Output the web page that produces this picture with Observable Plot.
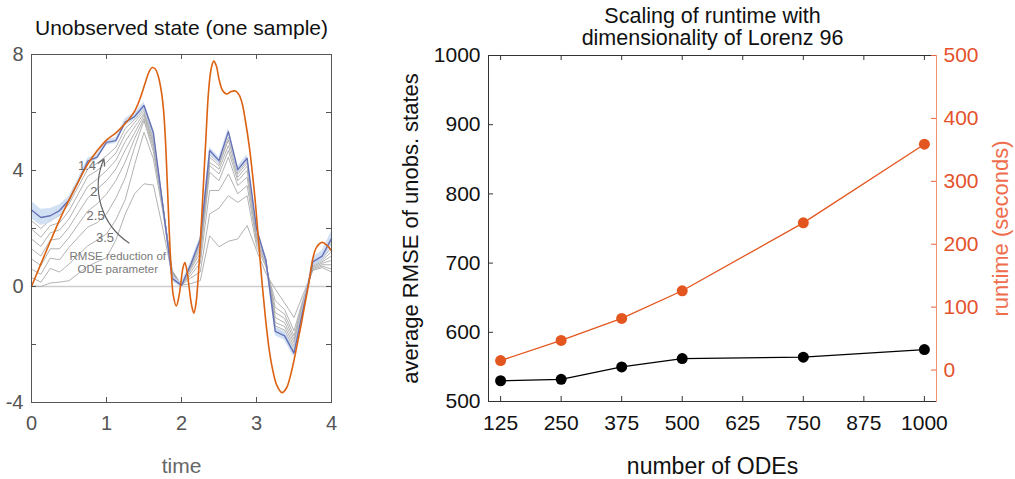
<!DOCTYPE html>
<html>
<head>
<meta charset="utf-8">
<script src="https://cdn.jsdelivr.net/npm/d3@7"></script>
<script src="https://cdn.jsdelivr.net/npm/@observablehq/plot@0.6"></script>
<style>
  body { margin: 0; background: #fff; }
  #chart { position: relative; width: 1015px; height: 479px; overflow: hidden; }
  #chart svg { position: absolute; top: 0; }
</style>
</head>
<body>
<div id="chart"></div>
<script>
// ---------- Left panel: one sample of an unobserved Lorenz 96 state ----------

// observation grid of the estimated trajectories
const timeGrid = [0, 0.125, 0.25, 0.375, 0.5, 0.625, 0.75, 0.875, 1, 1.125, 1.25, 1.375, 1.5,
  1.625, 1.75, 1.875, 2, 2.125, 2.25, 2.375, 2.5, 2.625, 2.75, 2.875, 3, 3.125, 3.25, 3.375,
  3.5, 3.625, 3.75, 3.875, 4];

// final estimate (mean) and its uncertainty half-width
const fitMean = [2.64, 2.38, 2.44, 2.62, 2.98, 3.62, 4.32, 4.46, 4.97, 5.03, 5.67, 5.86, 6.24,
  5.30, 2.80, 0.28, 0.04, 0.77, 1.62, 4.69, 4.34, 5.34, 4.03, 4.42, 2.00, 0.90, -1.55, -1.70,
  -2.30, -0.75, 0.85, 1.05, 1.65];
const fitSpread = [0.30, 0.28, 0.25, 0.20, 0.12, 0.10, 0.10, 0.10, 0.10, 0.10, 0.12, 0.12, 0.12,
  0.12, 0.10, 0.10, 0.10, 0.10, 0.10, 0.12, 0.12, 0.12, 0.12, 0.12, 0.10, 0.10, 0.15, 0.15,
  0.15, 0.12, 0.15, 0.18, 0.25];

// intermediate estimates while the ODE parameter error shrinks (one row per grid time)
const intermediateFits = [
  [2.27, 1.98, 1.64, 1.29, 0.95, 0.60, 0.31, 0.02],
  [2.00, 1.70, 1.38, 1.05, 0.72, 0.42, 0.15, 0.00],
  [2.30, 2.10, 1.85, 1.60, 1.30, 0.98, 0.62, 0.12],
  [2.45, 2.20, 1.95, 1.65, 1.30, 0.92, 0.50, 0.15],
  [2.85, 2.61, 2.33, 2.04, 1.69, 1.35, 0.77, 0.20],
  [3.45, 3.20, 2.90, 2.55, 2.15, 1.70, 1.10, 0.45],
  [4.05, 3.80, 3.45, 3.05, 2.60, 2.05, 1.40, 0.70],
  [4.25, 4.00, 3.70, 3.35, 2.85, 2.20, 1.60, 0.85],
  [4.51, 4.28, 4.00, 3.65, 3.19, 2.50, 1.81, 1.00],
  [4.80, 4.60, 4.35, 4.05, 3.65, 3.05, 2.30, 1.60],
  [5.45, 5.25, 5.00, 4.70, 4.30, 3.75, 3.00, 2.50],
  [5.75, 5.65, 5.50, 5.30, 5.10, 4.80, 4.20, 3.20],
  [6.12, 6.05, 5.97, 5.90, 5.80, 5.72, 5.32, 3.54],
  [5.20, 5.10, 5.00, 4.90, 4.80, 4.65, 4.40, 3.50],
  [2.85, 2.85, 2.80, 2.80, 2.75, 2.75, 2.60, 2.00],
  [0.35, 0.40, 0.45, 0.50, 0.55, 0.55, 0.50, 0.40],
  [0.05, 0.05, 0.05, 0.05, 0.05, 0.05, 0.05, 0.05],
  [0.75, 0.70, 0.65, 0.60, 0.50, 0.40, 0.30, 0.10],
  [1.50, 1.40, 1.30, 1.15, 1.00, 0.80, 0.50, 0.20],
  [4.55, 4.46, 4.28, 4.17, 3.94, 3.31, 2.50, 1.75],
  [4.25, 4.17, 4.05, 3.88, 3.65, 3.31, 2.70, 1.37],
  [5.15, 5.05, 4.86, 4.69, 4.46, 3.88, 3.13, 1.56],
  [3.95, 3.88, 3.77, 3.65, 3.48, 3.20, 2.90, 1.64],
  [4.32, 4.25, 4.15, 4.00, 3.77, 3.48, 3.13, 2.10],
  [1.95, 1.90, 1.85, 1.75, 1.65, 1.55, 1.40, 1.25],
  [0.95, 0.92, 0.88, 0.85, 0.80, 0.75, 0.68, 0.45],
  [-1.47, -1.36, -1.24, -1.07, -0.90, -0.72, -0.49, -0.09],
  [-1.62, -1.50, -1.38, -1.25, -1.10, -0.95, -0.80, -0.57],
  [-2.22, -2.16, -2.05, -1.93, -1.82, -1.70, -1.53, -1.07],
  [-0.75, -0.72, -0.68, -0.62, -0.55, -0.48, -0.40, -0.25],
  [0.82, 0.78, 0.74, 0.70, 0.66, 0.62, 0.58, 0.55],
  [1.00, 0.95, 0.90, 0.85, 0.80, 0.75, 0.70, 0.65],
  [1.50, 1.35, 1.20, 1.05, 0.90, 0.75, 0.60, 0.50]
];

// true (simulated) state
const truthTime = [0, 0.125, 0.25, 0.375, 0.5, 0.625, 0.75, 0.875, 1, 1.125, 1.25, 1.375, 1.45,
  1.52, 1.57, 1.61, 1.65, 1.69, 1.73, 1.76, 1.785, 1.81, 1.835, 1.86, 1.89, 1.93, 1.965, 1.995,
  2.02, 2.045, 2.075, 2.105, 2.135, 2.165, 2.195, 2.225, 2.255, 2.29, 2.325, 2.36, 2.395, 2.43,
  2.465, 2.5, 2.55, 2.6, 2.66, 2.72, 2.77, 2.81, 2.85, 2.9, 2.95, 2.99, 3.03, 3.075, 3.12, 3.165,
  3.21, 3.27, 3.34, 3.4, 3.45, 3.5, 3.55, 3.6, 3.65, 3.7, 3.75, 3.8, 3.875, 3.94, 4];
const truthState = [0, 0.78, 1.55, 2.3, 2.98, 3.62, 4.22, 4.68, 5.05, 5.3, 5.62, 6.05, 6.5,
  7.05, 7.42, 7.55, 7.5, 7.25, 6.75, 6.1, 5.1, 3.6, 2.0, 0.7, -0.3, -0.67, -0.35, 0.2,
  0.65, 0.83, 0.5, -0.1, -0.65, -0.92, -0.55, 0.4, 1.7, 3.4, 5.1, 6.7, 7.5, 7.77,
  7.6, 7.15, 6.75, 6.64, 6.72, 6.74, 6.6, 6.3, 5.75, 4.9, 3.8, 2.75, 1.5, 0.1, -1.1, -2.1,
  -2.8, -3.4, -3.66, -3.5, -3.1, -2.55, -1.9, -1.25, -0.55, 0.15, 0.95, 1.35, 1.52, 1.42, 1.23];

// annotation: parameter RMSE attached to some intermediate curves
const levelLabels = ["1.4", "2", "2.5", "3.5"];
const levelTime = [0.74, 0.83, 0.855, 0.98];
const levelState = [4.17, 3.27, 2.44, 1.69];

const timeTicks = [0, 1, 2, 3, 4];
const stateTicks = [-4, -2, 0, 2, 4, 6, 8];
const stateLabels = [-4, 0, 4, 8];

// ---------- Right panel: runtime scaling with the Lorenz 96 dimension ----------
const odeCounts = [125, 250, 375, 500, 750, 1000];
const avgRmse = [530, 532, 550, 562, 564, 575];
const runtimeSeconds = [15, 47, 82, 126, 234, 359];
const odeTicks = [125, 250, 375, 500, 625, 750, 875, 1000];
const rmseTicks = [500, 600, 700, 800, 900, 1000];
const runtimeTicks = [0, 100, 200, 300, 400, 500];

// ---------- tables ----------
const fitRows = timeGrid.map((t, i) => ({t, v: fitMean[i], lo: fitMean[i] - fitSpread[i], hi: fitMean[i] + fitSpread[i]}));
const greyRuns = intermediateFits[0].map((_, k) => timeGrid.map((t, i) => ({t, v: intermediateFits[i][k]})));
const truthRows = truthTime.map((t, i) => ({t, v: truthState[i]}));
const labelRows = levelLabels.map((label, i) => ({label, t: levelTime[i], v: levelState[i]}));
const scaleRows = odeCounts.map((n, i) => ({n, rmse: avgRmse[i], runtime: runtimeSeconds[i]}));

const font = '"Liberation Sans", Arial, Helvetica, sans-serif';
const baseStyle = {fontFamily: font, fontSize: "20px", background: "transparent", overflow: "visible"};
const plain = d => String(d);
const chart = document.getElementById("chart");

// left panel frame: 300 x 348
const LW = 300, LH = 348;
const leftPlot = Plot.plot({
  width: 345, height: 479,
  marginLeft: 31, marginRight: 14, marginTop: 54, marginBottom: 77,
  style: baseStyle,
  x: {domain: [0, 4]},
  y: {domain: [-4, 8]},
  marks: [
    Plot.ruleY([0], {stroke: "#cdcdcd", strokeWidth: 1.3}),
    ...greyRuns.map(run => Plot.line(run, {x: "t", y: "v", stroke: "#a9a9a9", strokeWidth: 0.9})),
    Plot.areaY(fitRows, {x: "t", y1: "lo", y2: "hi", fill: "#c9dcf1", fillOpacity: 0.85}),
    Plot.line(fitRows, {x: "t", y: "v", stroke: "#6670b6", strokeWidth: 1.4}),
    Plot.line(truthRows, {x: "t", y: "v", stroke: "#dc6110", strokeWidth: 1.6, curve: "catmull-rom"}),
    Plot.text(labelRows, {x: "t", y: "v", text: "label", fill: "#6e6e6e", fontSize: 13}),
    Plot.arrow([{x1: 1.3, y1: 1.5, x2: 0.965, y2: 4.4}], {x1: "x1", y1: "y1", x2: "x2", y2: "y2", bend: 40, stroke: "#666", strokeWidth: 1.2, headLength: 9}),
    Plot.text(["RMSE reduction of\nODE parameter"], {x: [1.15], y: [0.83], fill: "#7a7a7a", fontSize: 11.5, lineHeight: 1.15}),
    Plot.frame({stroke: "#555"}),
    // inward ticks on all four sides
    Plot.tickX(timeTicks, {x: d => d, stroke: "#555", insetTop: LH - 5}),
    Plot.tickX(timeTicks, {x: d => d, stroke: "#555", insetBottom: LH - 5}),
    Plot.tickY(stateTicks, {y: d => d, stroke: "#555", insetRight: LW - 5}),
    Plot.tickY(stateTicks, {y: d => d, stroke: "#555", insetLeft: LW - 5}),
    Plot.axisX(timeTicks, {tickSize: 0, tickPadding: 13, color: "#555", fontSize: 20, label: null, tickFormat: plain}),
    Plot.axisY(stateLabels, {tickSize: 0, tickPadding: 8, color: "#555", fontSize: 20, label: null, tickFormat: plain}),
    Plot.text(["time"], {frameAnchor: "bottom", lineAnchor: "middle", dy: 64, fill: "#666", fontSize: 21}),
    Plot.text(["Unobserved state (one sample)"], {frameAnchor: "top", lineAnchor: "middle", dy: -26, fill: "#111", fontSize: 21})
  ]
});
leftPlot.style.left = "0px";
chart.appendChild(leftPlot);

// right panel frame: 448 x 346; the two series share it, each with its own y scale
const RW = 448, RH = 346;
const rightDims = {width: 670, height: 479, marginLeft: 143, marginRight: 79, marginTop: 55, marginBottom: 78};
const odeDomain = [100, 1025];

const rmsePlot = Plot.plot({
  ...rightDims,
  style: baseStyle,
  x: {domain: odeDomain},
  y: {domain: [500, 1000]},
  marks: [
    Plot.frame({anchor: "left", stroke: "#333"}),
    Plot.frame({anchor: "top", stroke: "#333"}),
    Plot.frame({anchor: "bottom", stroke: "#333"}),
    Plot.tickX(odeTicks, {x: d => d, stroke: "#333", insetTop: RH - 5}),
    Plot.tickX(odeTicks, {x: d => d, stroke: "#333", insetBottom: RH - 5}),
    Plot.tickY(rmseTicks, {y: d => d, stroke: "#333", insetRight: RW - 5}),
    Plot.axisX(odeTicks, {tickSize: 0, tickPadding: 14, color: "#111", fontSize: 21, label: null, tickFormat: plain}),
    Plot.axisY(rmseTicks, {tickSize: 0, tickPadding: 8, color: "#111", fontSize: 21, label: null, tickFormat: plain}),
    Plot.line(scaleRows, {x: "n", y: "rmse", stroke: "#000", strokeWidth: 1.3}),
    Plot.dot(scaleRows, {x: "n", y: "rmse", fill: "#000", r: 5.5}),
    Plot.text(["average RMSE of unobs. states"], {frameAnchor: "left", textAnchor: "middle", lineAnchor: "middle", rotate: -90, dx: -78, fill: "#111", fontSize: 22}),
    Plot.text(["number of ODEs"], {frameAnchor: "bottom", lineAnchor: "middle", dy: 65, fill: "#111", fontSize: 23}),
    Plot.text(["Scaling of runtime with"], {frameAnchor: "top", lineAnchor: "middle", dy: -39, fill: "#111", fontSize: 21.5}),
    Plot.text(["dimensionality of Lorenz 96"], {frameAnchor: "top", lineAnchor: "middle", dy: -17, fill: "#111", fontSize: 21.5})
  ]
});
rmsePlot.style.left = "345px";
chart.appendChild(rmsePlot);

const runtimePlot = Plot.plot({
  ...rightDims,
  style: baseStyle,
  x: {domain: odeDomain, axis: null},
  y: {domain: [-50, 500]},
  marks: [
    Plot.frame({anchor: "right", stroke: "#ef9470"}),
    Plot.tickY(runtimeTicks, {y: d => d, stroke: "#e8643e", insetLeft: RW - 5}),
    Plot.axisY(runtimeTicks, {anchor: "right", tickSize: 0, tickPadding: 7, color: "#e4522c", fontSize: 21, label: null, tickFormat: plain}),
    Plot.line(scaleRows, {x: "n", y: "runtime", stroke: "#e4561f", strokeWidth: 1.3}),
    Plot.dot(scaleRows, {x: "n", y: "runtime", fill: "#e4561f", r: 5.5}),
    Plot.text(["runtime (seconds)"], {frameAnchor: "right", textAnchor: "middle", lineAnchor: "middle", rotate: -90, dx: 64, fill: "#ef6d4c", fontSize: 22})
  ]
});
runtimePlot.style.left = "345px";
chart.appendChild(runtimePlot);
</script>
</body>
</html>
